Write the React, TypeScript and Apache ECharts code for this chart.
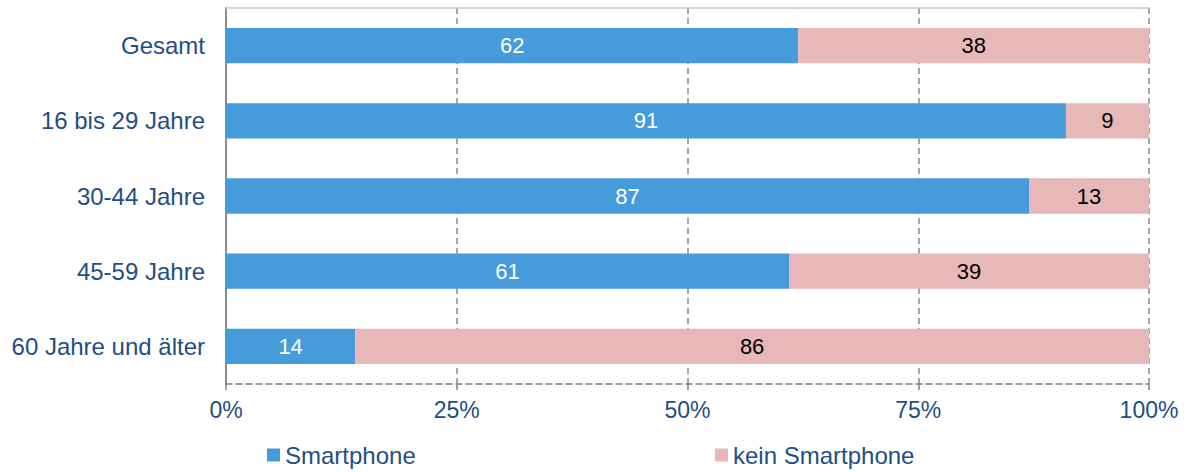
import React, { useEffect, useRef } from "react";
import * as echarts from "echarts";

const categories = ["Gesamt", "16 bis 29 Jahre", "30-44 Jahre", "45-59 Jahre", "60 Jahre und älter"];
const smartphone = [62, 91, 87, 61, 14];
const keinSmartphone = [38, 9, 13, 39, 86];
const seriesNames = ["Smartphone", "kein Smartphone"];

const textColor = "#1F4E85";
const font = "Liberation Sans, Arial, sans-serif";

export default function App() {
  const ref = useRef<HTMLDivElement>(null);
  useEffect(() => {
    if (!ref.current) return;
    const chart = echarts.init(ref.current, undefined, { renderer: "svg" });
    const legendStyle = {
      top: 443,
      padding: 0,
      itemWidth: 13,
      itemHeight: 13,
      icon: "rect",
      textStyle: { color: textColor, fontSize: 24, fontFamily: font },
    };
    chart.setOption({
      animation: false,
      textStyle: { fontFamily: font },
      grid: { left: 226, right: 49, top: 8, bottom: 88 },
      legend: [
        { ...legendStyle, data: [seriesNames[0]], left: 267 },
        { ...legendStyle, data: [seriesNames[1]], left: 715 },
      ],
      xAxis: [
        {
          type: "value",
          min: 0,
          max: 100,
          interval: 25,
          position: "bottom",
          axisLine: { show: true, lineStyle: { color: "#808080", type: [6, 4], width: 1.5 } },
          axisTick: { show: true, length: 6, lineStyle: { color: "#808080", width: 1.5 } },
          splitLine: { show: true, lineStyle: { color: "#8a8a8a", type: [6, 4], width: 1.5 } },
          axisLabel: {
            formatter: "{value}%",
            color: textColor,
            fontSize: 23,
            margin: 14,
            fontFamily: font,
          },
        },
        {
          type: "value",
          min: 0,
          max: 100,
          interval: 25,
          position: "top",
          axisLine: { show: true, lineStyle: { color: "#c8c8c8", width: 1.5 } },
          axisTick: { show: false },
          splitLine: { show: false },
          axisLabel: { show: false },
        },
      ],
      yAxis: {
        type: "category",
        data: categories,
        inverse: true,
        axisLine: { show: true, lineStyle: { color: "#8c8c8c", width: 2 } },
        axisTick: { show: false },
        axisLabel: { color: textColor, fontSize: 24, margin: 21, fontFamily: font },
      },
      series: [
        {
          name: seriesNames[0],
          type: "bar",
          stack: "total",
          data: smartphone,
          barWidth: "47%",
          itemStyle: { color: "#469BDB" },
          label: { show: true, position: "inside", color: "#ffffff", fontSize: 22, fontFamily: font },
        },
        {
          name: seriesNames[1],
          type: "bar",
          stack: "total",
          data: keinSmartphone,
          barWidth: "47%",
          itemStyle: { color: "#E6B8B7" },
          label: { show: true, position: "inside", color: "#000000", fontSize: 22, fontFamily: font },
        },
      ],
    });
    return () => chart.dispose();
  }, []);
  return (
    <div
      ref={ref}
      style={{ position: "fixed", left: 0, top: 0, width: 1198, height: 472, background: "#ffffff" }}
    />
  );
}
